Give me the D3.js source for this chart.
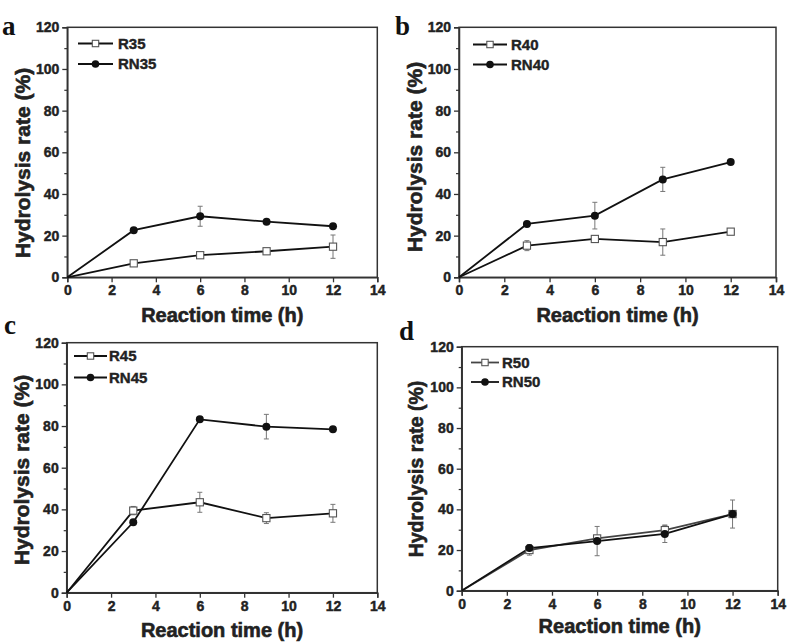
<!DOCTYPE html>
<html>
<head>
<meta charset="utf-8">
<script src="https://cdn.jsdelivr.net/npm/d3@7"></script>
<style>
  html, body { margin: 0; padding: 0; background: #fff; }
  svg { display: block; }
  text { font-family: "Liberation Sans", Arial, sans-serif; font-weight: bold; fill: #222; stroke: #222; stroke-width: 0.45px; }
</style>
</head>
<body>
<svg id="chart" width="800" height="644"></svg>
<script>
// ---- data ----
const times = [0, 3, 6, 9, 12];
const xTicks = [0, 2, 4, 6, 8, 10, 12, 14];
const yTicks = [0, 20, 40, 60, 80, 100, 120];
const yMinorTicks = [10, 30, 50, 70, 90, 110];

const panelLetters = ["a", "b", "c", "d"];
const seriesNamesR = ["R35", "R40", "R45", "R50"];
const seriesNamesRN = ["RN35", "RN40", "RN45", "RN50"];

const R35 = [0, 6.7, 10.6, 12.5, 14.7];
const R35err = [0, 1.0, 1.0, 0.8, 5.6];
const RN35 = [0, 22.6, 29.3, 26.7, 24.5];
const RN35err = [0, 0.8, 4.8, 0.8, 0.8];

const R40 = [0, 15.2, 18.4, 16.9, 21.9];
const R40err = [0, 2.4, 1.5, 6.3, 1.0];
const RN40 = [0, 25.6, 29.6, 47.0, 55.3];
const RN40err = [0, 1.2, 6.4, 5.8, 0.8];

const R45 = [0, 39.4, 43.4, 35.8, 38.1];
const R45err = [0, 2.0, 4.8, 2.6, 4.3];
const RN45 = [0, 33.8, 83.2, 79.7, 78.4];
const RN45err = [0, 0.8, 0.8, 5.9, 0.8];

const R50 = [0, 20.0, 25.7, 29.8, 37.7];
const R50err = [0, 2.5, 1.5, 2.5, 1.5];
const RN50 = [0, 21.0, 24.4, 27.9, 37.7];
const RN50err = [0, 1.5, 7.2, 4.2, 6.9];

const xTitle = "Reaction time (h)";
const yTitle = "Hydrolysis rate (%)";

// ---- layout ----
const layouts = [
  { l: 67.3, r: 377.3, t: 27.3, b: 277.3, letter: [2, 35], legX: [78, 113, 118], legY: [43.5, 64], xTitleY: 322, yTitleX: 30, yTitleY: 163, yfs: 21 },
  { l: 459, r: 776, t: 27.3, b: 277.3, letter: [395, 35], legX: [473, 507, 511], legY: [44.5, 64.5], xTitleY: 322, yTitleX: 422, yTitleY: 157, yfs: 21 },
  { l: 66.7, r: 377.3, t: 342.7, b: 592.7, letter: [4, 334], legX: [74, 107, 109], legY: [356, 377.5], xTitleY: 637, yTitleX: 29, yTitleY: 470, yfs: 21 },
  { l: 461.7, r: 777.7, t: 346.7, b: 590.7, letter: [399, 340], legX: [471, 499, 502], legY: [362.5, 382], xTitleY: 633, yTitleX: 423, yTitleY: 469, yfs: 19.5 }
];

const panelR = [R35, R40, R45, R50];
const panelRerr = [R35err, R40err, R45err, R50err];
const panelRN = [RN35, RN40, RN45, RN50];
const panelRNerr = [RN35err, RN40err, RN45err, RN50err];

const svg = d3.select("#chart");

function styleTickText(sel) {
  sel.style("font-size", "14px").style("font-family", "Liberation Sans, Arial, sans-serif")
    .style("font-weight", "bold").attr("fill", "#222").attr("stroke", "#222").attr("stroke-width", 0.35);
}

layouts.forEach((L, i) => {
  const g = svg.append("g");
  const x = d3.scaleLinear().domain([0, 14]).range([L.l, L.r]);
  const y = d3.scaleLinear().domain([0, 120]).range([L.b, L.t]);

  // frame
  g.append("rect")
    .attr("x", L.l).attr("y", L.t)
    .attr("width", L.r - L.l).attr("height", L.b - L.t)
    .attr("fill", "none").attr("stroke", "#333").attr("stroke-width", 1.5);

  // x axis
  const xa = g.append("g").attr("transform", `translate(0,${L.b})`)
    .call(d3.axisBottom(x).tickValues(xTicks).tickSize(5).tickPadding(3).tickFormat(d3.format("d")));
  xa.select(".domain").attr("stroke", "#333").attr("stroke-width", 1.5);
  xa.selectAll(".tick line").attr("stroke", "#333").attr("stroke-width", 1.3);
  styleTickText(xa.selectAll(".tick text"));

  // y axis
  const ya = g.append("g").attr("transform", `translate(${L.l},0)`)
    .call(d3.axisLeft(y).tickValues(yTicks).tickSize(5).tickPadding(3).tickFormat(d3.format("d")));
  ya.select(".domain").attr("stroke", "#333").attr("stroke-width", 1.5);
  ya.selectAll(".tick line").attr("stroke", "#333").attr("stroke-width", 1.3);
  styleTickText(ya.selectAll(".tick text"));

  // minor y ticks
  const ym = g.append("g").attr("transform", `translate(${L.l},0)`)
    .call(d3.axisLeft(y).tickValues(yMinorTicks).tickSize(3).tickFormat(""));
  ym.select(".domain").remove();
  ym.selectAll(".tick line").attr("stroke", "#333").attr("stroke-width", 1.2);

  // titles
  g.append("text").attr("x", (L.l + L.r) / 2 + 0).attr("y", L.xTitleY)
    .attr("text-anchor", "middle").style("font-size", "20px").style("stroke-width", "0.6px").text(xTitle);
  g.append("text")
    .attr("transform", `translate(${L.yTitleX},${L.yTitleY}) rotate(-90)`)
    .attr("text-anchor", "middle").style("font-size", L.yfs + "px").style("stroke-width", "0.6px").text(yTitle);

  // panel letter
  g.append("text").attr("x", L.letter[0]).attr("y", L.letter[1])
    .style("font-family", "Liberation Serif, 'Times New Roman', serif")
    .style("font-size", "27px").style("font-weight", "bold").style("fill", "#111").style("stroke", "none")
    .text(panelLetters[i]);

  const line = d3.line().x(d => x(d[0])).y(d => y(d[1]));

  const series = [
    { vals: panelR[i], err: panelRerr[i], type: "square", name: seriesNamesR[i], lineColor: i === 3 ? "#444" : "#111" },
    { vals: panelRN[i], err: panelRNerr[i], type: "circle", name: seriesNamesRN[i], lineColor: "#111" }
  ];

  series.forEach(s => {
    const pts = times.map((t, k) => [t, s.vals[k], s.err[k]]);
    const eb = g.append("g").attr("stroke", "#777").attr("stroke-width", 1);
    pts.filter(p => p[2] > 0.9).forEach(p => {
      const cx = x(p[0]);
      eb.append("line").attr("x1", cx).attr("x2", cx).attr("y1", y(p[1] - p[2])).attr("y2", y(p[1] + p[2]));
      eb.append("line").attr("x1", cx - 2.5).attr("x2", cx + 2.5).attr("y1", y(p[1] + p[2])).attr("y2", y(p[1] + p[2]));
      eb.append("line").attr("x1", cx - 2.5).attr("x2", cx + 2.5).attr("y1", y(p[1] - p[2])).attr("y2", y(p[1] - p[2]));
    });
  });

  series.forEach(s => {
    const pts = times.map((t, k) => [t, s.vals[k]]);
    g.append("path").datum(pts).attr("d", line)
      .attr("fill", "none").attr("stroke", s.lineColor).attr("stroke-width", 1.8);
  });

  series.forEach(s => {
    const pts = times.map((t, k) => [t, s.vals[k]]).filter(p => p[0] > 0);
    if (s.type === "square") {
      g.selectAll(null).data(pts).enter().append("rect")
        .attr("x", d => x(d[0]) - 3.6).attr("y", d => y(d[1]) - 3.6)
        .attr("width", 7.2).attr("height", 7.2)
        .attr("fill", "#fff").attr("stroke", "#555").attr("stroke-width", 1.1);
    } else {
      g.selectAll(null).data(pts).enter().append("circle")
        .attr("cx", d => x(d[0])).attr("cy", d => y(d[1])).attr("r", 4)
        .attr("fill", "#111");
    }
  });

  // legend
  series.forEach((s, k) => {
    const ly = L.legY[k];
    g.append("line").attr("x1", L.legX[0]).attr("x2", L.legX[1]).attr("y1", ly).attr("y2", ly)
      .attr("stroke", s.lineColor).attr("stroke-width", 1.8);
    const mx = (L.legX[0] + L.legX[1]) / 2;
    if (s.type === "square") {
      g.append("rect").attr("x", mx - 3.2).attr("y", ly - 3.2).attr("width", 6.4).attr("height", 6.4)
        .attr("fill", "#fff").attr("stroke", "#555").attr("stroke-width", 1.1);
    } else {
      g.append("circle").attr("cx", mx).attr("cy", ly).attr("r", 3.8).attr("fill", "#111");
    }
    g.append("text").attr("x", L.legX[2]).attr("y", ly).attr("dy", "0.35em")
      .style("font-size", "15px").style("stroke-width", "0.4px").text(s.name);
  });
});
</script>
</body>
</html>
